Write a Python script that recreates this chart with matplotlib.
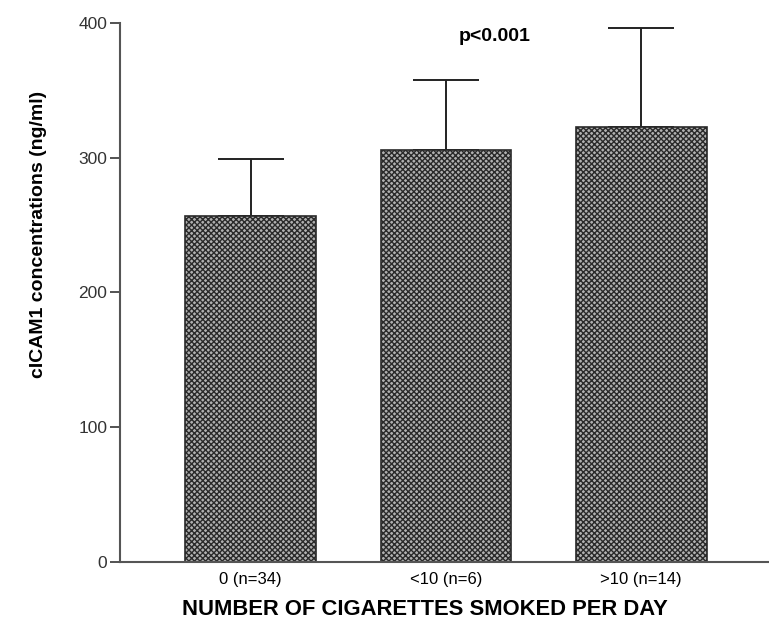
import matplotlib.pyplot as plt
import numpy as np

plt.rcParams['font.family'] = ['Liberation Sans', 'DejaVu Sans']
plt.rcParams['hatch.linewidth'] = 1.0

groups = ['0 (n=34)', '<10 (n=6)', '>10 (n=14)']
means = [257, 306, 323]
sd_up = [42, 52, 73]

fig = plt.figure(figsize=(7.69, 6.21), dpi=100)
ax = fig.add_axes([0.156, 0.095, 0.843, 0.868])

x = np.arange(len(groups))
ax.bar(x, means, width=0.67, color='#b0b0b0', edgecolor='#2a2a2a',
       hatch='xxxxxx', linewidth=1.2, zorder=2)
ax.errorbar(x, means, yerr=[np.zeros(3), sd_up], fmt='none', ecolor='#222222',
            elinewidth=1.4, capsize=24, capthick=1.4, zorder=1)

ax.set_xlim(-0.67, 2.65)
ax.set_ylim(0, 400)
ax.set_yticks([0, 100, 200, 300, 400])
ax.set_xticks(x)
ax.set_xticklabels(groups, fontsize=12)
ax.tick_params(axis='x', length=0, pad=7)
ax.tick_params(axis='y', length=7, width=1.3, color='#444444', labelsize=12.5,
               labelcolor='#333333', pad=2)
for s in ['top', 'right']:
    ax.spines[s].set_visible(False)
for s in ['left', 'bottom']:
    ax.spines[s].set_linewidth(1.5)
    ax.spines[s].set_color('#555555')

ax.set_ylabel('cICAM1 concentrations (ng/ml)', fontsize=14, fontweight='bold')
ax.yaxis.set_label_coords(-0.113, 0.607)
ax.set_xlabel('NUMBER OF CIGARETTES SMOKED PER DAY', fontsize=15.8, fontweight='bold')
ax.xaxis.set_label_coords(0.47, -0.069)
ax.text(1.25, 390, 'p<0.001', fontsize=14, fontweight='bold', ha='center', va='center')

fig.savefig('out.png', dpi=100)
